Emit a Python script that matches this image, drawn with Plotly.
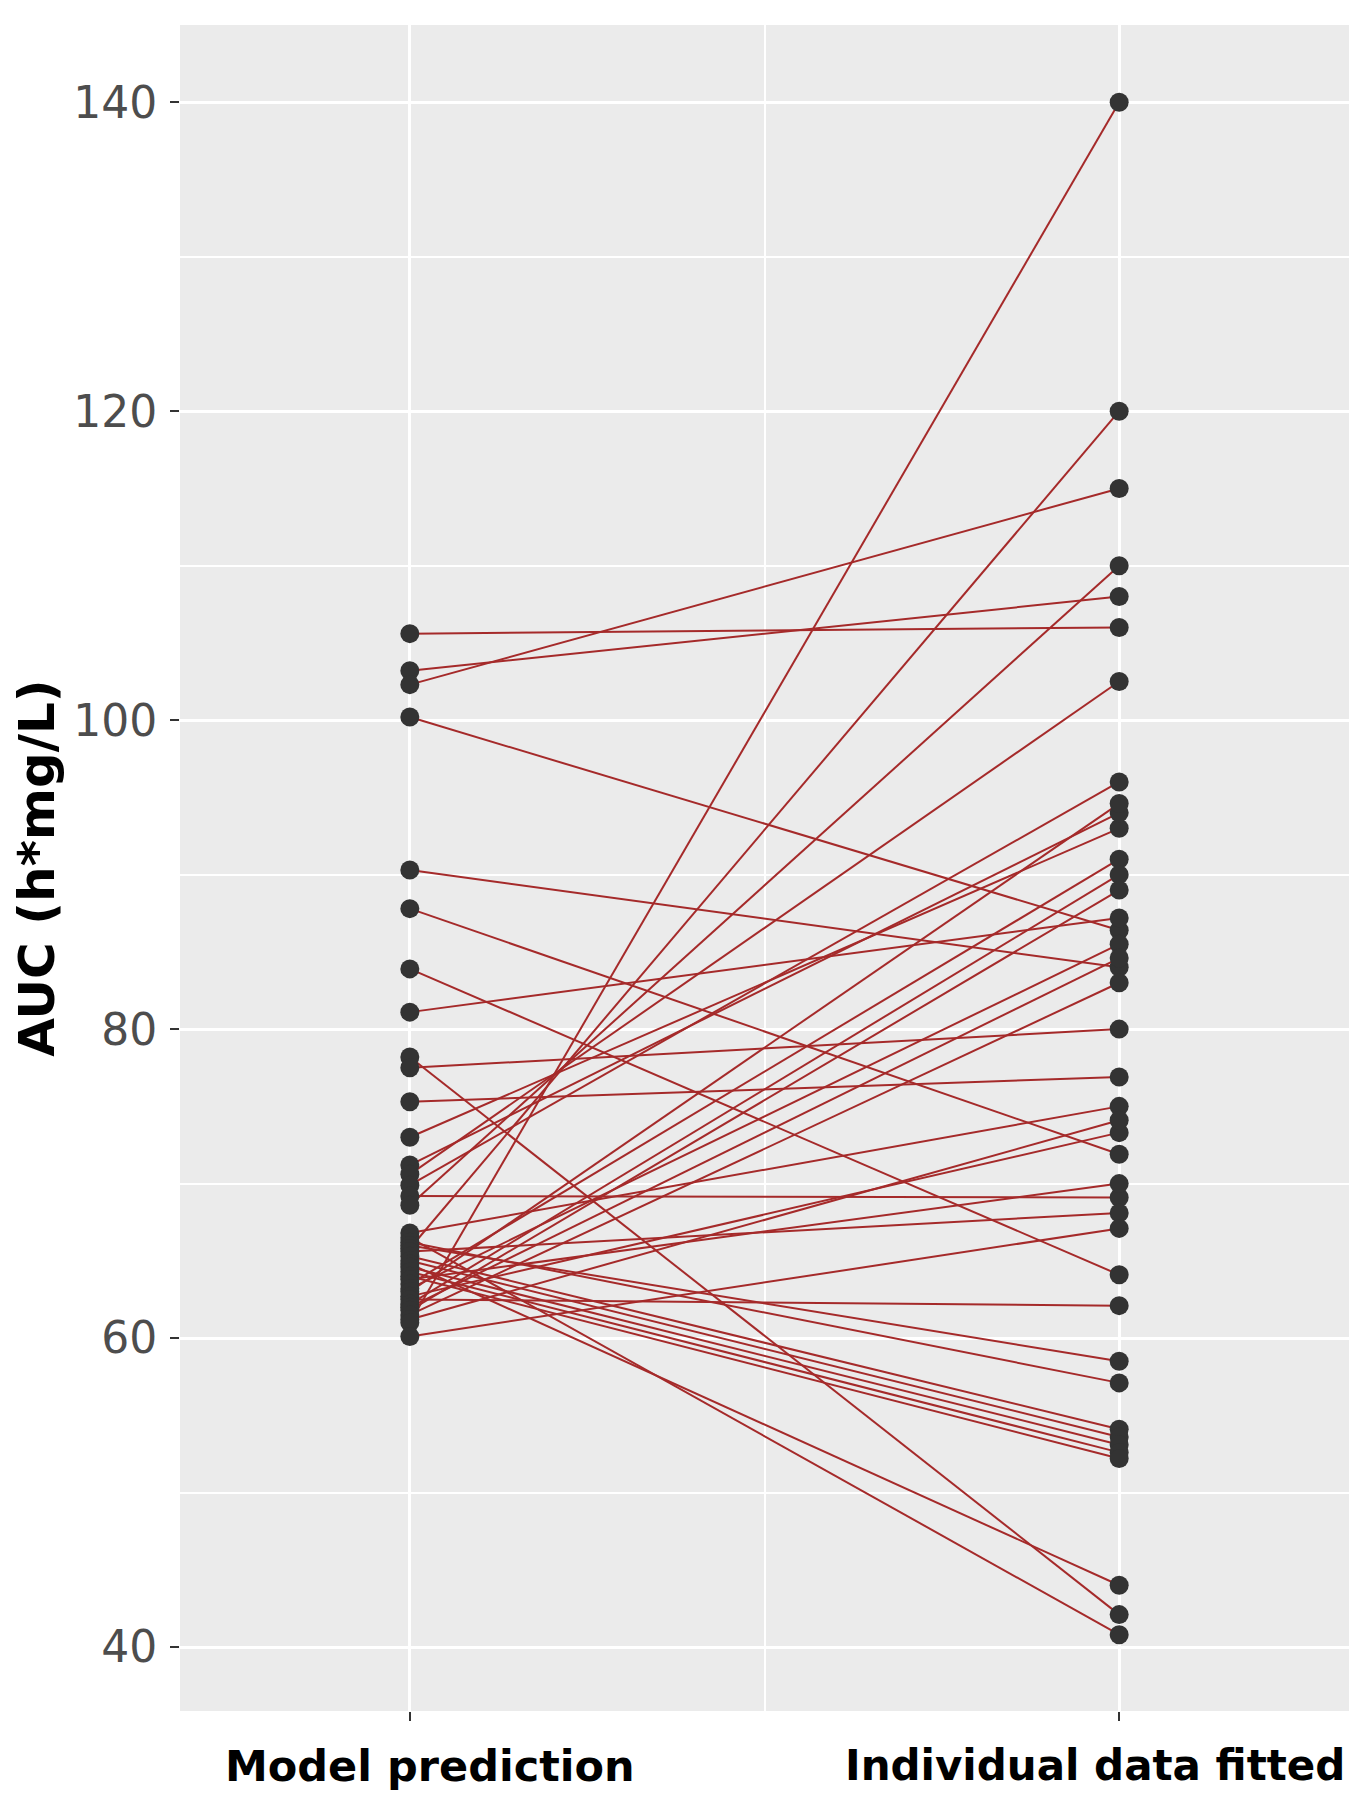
import plotly.graph_objects as go

categories = ["Model prediction", "Individual data fitted"]

# paired AUC values (h*mg/L): model prediction -> individual data fitted
model_prediction = [105.6, 103.2, 102.3, 100.2, 90.3, 87.8, 83.9, 81.1, 78.2, 77.5,
                    75.3, 73.0, 71.2, 70.6, 69.9, 69.2, 68.6, 66.8, 66.5, 66.2,
                    66.0, 65.8, 65.6, 65.3, 65.0, 64.8, 64.6, 64.3, 64.0, 63.8,
                    63.5, 63.2, 63.0, 62.7, 62.5, 62.2, 62.0, 61.8, 61.5, 61.2,
                    61.0, 60.1]
individual_fitted = [106.0, 108.0, 115.0, 86.4, 84.0, 71.9, 64.1, 87.2, 42.1, 80.0,
                     76.9, 93.0, 94.0, 102.5, 96.0, 69.1, 110.0, 75.0, 40.8, 57.1,
                     58.5, 120.0, 68.1, 54.1, 53.6, 44.0, 53.1, 52.6, 52.2, 70.0,
                     91.0, 85.5, 94.6, 73.3, 62.1, 90.0, 84.6, 89.0, 83.0, 74.1,
                     140.0, 67.1]

y_ticks = [40, 60, 80, 100, 120, 140]
y_minor = [50, 70, 90, 110, 130]

fig = go.Figure()

lx, ly = [], []
for a, b in zip(model_prediction, individual_fitted):
    lx += [1, 2, None]
    ly += [a, b, None]
fig.add_trace(go.Scatter(x=lx, y=ly, mode="lines",
                         line=dict(color="#A52A2A", width=2),
                         hoverinfo="skip", showlegend=False))

px = [1] * len(model_prediction) + [2] * len(individual_fitted)
py = model_prediction + individual_fitted
fig.add_trace(go.Scatter(x=px, y=py, mode="markers",
                         marker=dict(color="#333333", size=19, line=dict(width=0)),
                         showlegend=False))

# the page body adds an 8 px offset, so the figure is 8 px smaller
fig.update_layout(
    width=1349, height=1792,
    margin=dict(l=172, r=8, t=17, b=89),
    paper_bgcolor="white",
    plot_bgcolor="#EBEBEB",
    font=dict(family="DejaVu Sans", color="#4D4D4D"),
    showlegend=False,
)
fig.update_xaxes(
    range=[0.676, 2.324],
    tickvals=[1, 2], ticktext=["", ""],
    showgrid=True, gridcolor="white", gridwidth=3,
    minor=dict(tickvals=[1.5], showgrid=True, gridcolor="white", gridwidth=1.5, ticklen=0),
    ticks="outside", ticklen=9, tickwidth=2, tickcolor="#333333",
    zeroline=False, showline=False, automargin=False,
)
fig.update_yaxes(
    range=[35.86, 145.0],
    tickvals=y_ticks,
    tickfont=dict(family="DejaVu Sans", size=44, color="#4D4D4D"),
    showgrid=True, gridcolor="white", gridwidth=3,
    minor=dict(tickvals=y_minor, showgrid=True, gridcolor="white", gridwidth=1.5, ticklen=0),
    ticks="outside", ticklen=9, tickwidth=2, tickcolor="#333333",
    ticklabelstandoff=4,
    zeroline=False, showline=False, automargin=False,
    title=dict(text="AUC (h*mg/L)", font=dict(family="DejaVu Sans", size=50, color="black", weight="bold"), standoff=12),
)

label_font = dict(family="DejaVu Sans", size=43, color="black", weight="bold")
fig.add_annotation(x=1, xref="x", y=0, yref="paper", yanchor="top", xanchor="center",
                   xshift=20, yshift=-28, showarrow=False, text=categories[0], font=label_font)
fig.add_annotation(x=1, xref="paper", y=0, yref="paper", yanchor="top", xanchor="right",
                   xshift=-2, yshift=-28, showarrow=False, text=categories[1],
                   font=dict(family="DejaVu Sans", size=42, color="black", weight="bold"))

fig.write_html("out.html")
